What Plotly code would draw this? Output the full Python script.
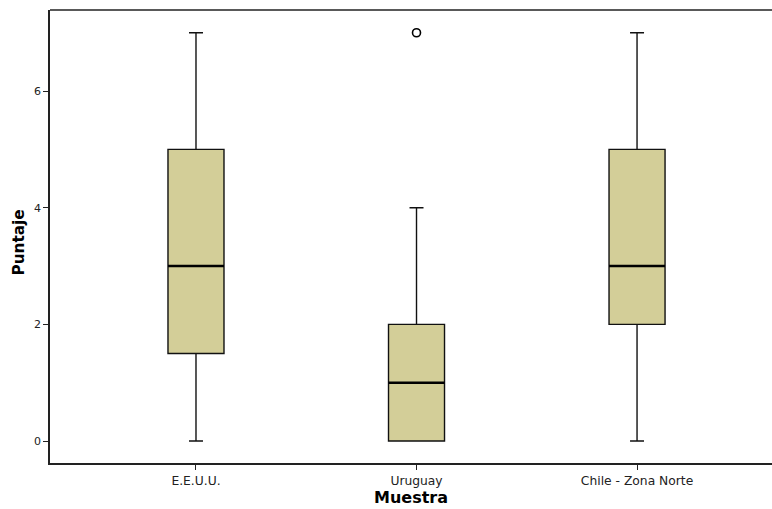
import plotly.graph_objects as go

categories = ["E.E.U.U.", "Uruguay", "Chile - Zona Norte"]
lower = [0, 0, 0]
q1 = [1.5, 0, 2]
median = [3, 1, 3]
q3 = [5, 2, 5]
upper = [7, 4, 7]
outlier_cat = ["Uruguay"]
outlier_val = [7]

xpos = list(range(len(categories)))
box_w = 0.254
fill = "#D3CE98"

fig = go.Figure()
fig.add_trace(go.Box(
    x=xpos, q1=q1, median=median, q3=q3,
    lowerfence=lower, upperfence=upper,
    width=box_w, whiskerwidth=0.25,
    fillcolor=fill, line=dict(color="#111111", width=1.4),
    boxpoints=False, showlegend=False, hoverinfo="skip",
))
for i, m in zip(xpos, median):
    fig.add_trace(go.Scatter(
        x=[i - box_w / 2, i + box_w / 2], y=[m, m], mode="lines",
        line=dict(color="#000000", width=2.4), showlegend=False, hoverinfo="skip",
    ))
fig.add_trace(go.Scatter(
    x=[categories.index(c) for c in outlier_cat], y=outlier_val, mode="markers",
    marker=dict(symbol="circle-open", size=8, color="#000000", line=dict(width=1.6)),
    showlegend=False, hoverinfo="skip",
))

font = "DejaVu Sans, Verdana, sans-serif"
fig.update_layout(
    width=772, height=509,
    margin=dict(l=50, r=0, t=10, b=46),
    paper_bgcolor="white", plot_bgcolor="white",
    font=dict(family=font, size=11, color="#000000"),
    shapes=[dict(type="line", xref="paper", yref="paper", x0=0, x1=1, y0=1, y1=1,
                 line=dict(color="#222222", width=1.6))],
    annotations=[dict(text="<b>Puntaje</b>", xref="paper", yref="paper",
                      x=-0.0443, y=0.5, yshift=-6, textangle=-90,
                      xanchor="center", yanchor="middle", showarrow=False,
                      font=dict(size=15.3, color="#000000"))],
)
fig.update_xaxes(
    range=[-0.662, 2.612], tickvals=xpos, ticktext=categories,
    showgrid=False, zeroline=False, showline=True, linecolor="#222222", linewidth=1.6,
    ticks="outside", ticklen=5, tickwidth=1.3, tickcolor="#222222",
    tickfont=dict(size=12.3, color="#222222"),
    title=dict(text="<b>Muestra</b>", font=dict(size=16), standoff=5),
)
fig.update_yaxes(
    range=[-0.377, 7.39], tickvals=[0, 2, 4, 6],
    showgrid=False, zeroline=False, showline=True, linecolor="#222222", linewidth=1.6,
    ticks="outside", ticklen=5, tickwidth=1.3, tickcolor="#222222",
    tickfont=dict(size=11, color="#222222"),
)
fig.write_html("out.html")
